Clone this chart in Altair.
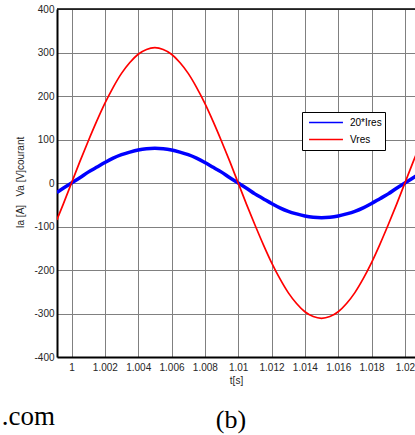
import altair as alt
import pandas as pd

# time samples [s]
t_vals = [0.99912, 0.9995, 1.0, 1.0005, 1.001, 1.0015, 1.002, 1.0025, 1.003, 1.0035,
          1.004, 1.0045, 1.005, 1.0055, 1.006, 1.0065, 1.007, 1.0075, 1.008, 1.0085,
          1.009, 1.0095, 1.01, 1.0105, 1.011, 1.0115, 1.012, 1.0125, 1.013, 1.0135,
          1.014, 1.0145, 1.015, 1.0155, 1.016, 1.0165, 1.017, 1.0175, 1.018, 1.0185,
          1.019, 1.0195, 1.02, 1.0205, 1.021]

# Vres [V]
vres = [-85, -49, 0, 49, 96, 141, 183, 220, 252, 277,
        296, 307, 311, 307, 296, 277, 252, 220, 183, 141,
        96, 49, 0, -49, -96, -141, -183, -220, -252, -277,
        -296, -307, -311, -307, -296, -277, -252, -220, -183, -141,
        -96, -49, 0, 49, 96]

# 20*Ires
ires20 = [-22, -12, 0, 12, 25, 36, 47, 57, 65, 71,
          76, 79, 80, 79, 76, 71, 65, 57, 47, 36,
          25, 12, 0, -12, -25, -36, -47, -57, -65, -71,
          -76, -79, -80, -79, -76, -71, -65, -57, -47, -36,
          -25, -12, 0, 12, 25]

series_names = ["20*Ires", "Vres"]
series_colors = ["#0000ff", "#ff0000"]
series_widths = [3.5, 1.7]

x_ticks = [1.0, 1.002, 1.004, 1.006, 1.008, 1.01, 1.012, 1.014, 1.016, 1.018, 1.02]
y_ticks = [-400, -300, -200, -100, 0, 100, 200, 300, 400]
x_domain = [0.99913, 1.020606]
y_domain = [-400, 400]

y_title = "Ia [A]\u00a0\u00a0\u00a0Va [V]courant"
caption_texts = [".com", "(b)"]

rows = []
for t, v in zip(t_vals, ires20):
    rows.append({"t": t, "val": v, "series": series_names[0]})
for t, v in zip(t_vals, vres):
    rows.append({"t": t, "val": v, "series": series_names[1]})
df = pd.DataFrame(rows)

W, H = 358, 348

x_scale = alt.Scale(domain=x_domain, nice=False, zero=False)
y_scale = alt.Scale(domain=y_domain, nice=False, zero=False)

x_enc = alt.X("t:Q", scale=x_scale,
              axis=alt.Axis(values=x_ticks, format=".3~f", title="t[s]", grid=True,
                            gridColor="#808080", gridWidth=1, gridOpacity=1,
                            ticks=False, labelPadding=5, labelFlush=False,
                            labelFont="Liberation Sans", labelFontSize=10, labelColor="#262626",
                            titleFont="Liberation Sans", titleFontSize=10, titleFontWeight="normal",
                            titleColor="#262626", titlePadding=3,
                            domainColor="#000000", domainWidth=2))
y_enc = alt.Y("val:Q", scale=y_scale,
              axis=alt.Axis(values=y_ticks, labelExpr="'' + datum.value", title=y_title,
                            grid=True, gridColor="#808080", gridWidth=1, gridOpacity=1,
                            ticks=False, labelPadding=3, labelFlush=False,
                            labelFont="Liberation Sans", labelFontSize=10, labelColor="#262626",
                            titleFont="Liberation Sans", titleFontSize=10, titleFontWeight="normal",
                            titleColor="#262626", titleX=-37, titleY=173, titleBaseline="middle",
                            titleAlign="center", titleAngle=270,
                            domainColor="#000000", domainWidth=2))
color_enc = alt.Color("series:N", scale=alt.Scale(domain=series_names, range=series_colors),
                      legend=alt.Legend(title=None, orient="none", legendX=245, legendY=103,
                                        symbolType="stroke", symbolSize=1150, symbolStrokeWidth=1.6,
                                        symbolOffset=3, clipHeight=15,
                                        labelFont="Liberation Sans", labelFontSize=10,
                                        labelColor="#000000", padding=3, rowPadding=2,
                                        labelOffset=6,
                                        strokeColor="#000000", fillColor="#ffffff"))

base = alt.Chart(df).encode(x=x_enc, y=y_enc, color=color_enc, order=alt.Order("t:Q"))

line_i = base.transform_filter(alt.datum.series == series_names[0]).mark_line(
    interpolate="monotone", clip=True, strokeWidth=series_widths[0])
line_v = base.transform_filter(alt.datum.series == series_names[1]).mark_line(
    interpolate="monotone", clip=True, strokeWidth=series_widths[1])

top_border = alt.Chart(pd.DataFrame({"y": [y_domain[1]]})).mark_rule(
    color="#000000", strokeWidth=1.5).encode(
    y=alt.Y("y:Q", scale=y_scale),
)

cap_df = pd.DataFrame({"txt": caption_texts})
cap_com = alt.Chart(cap_df).transform_filter(alt.datum.txt == ".com").mark_text(
    font="Liberation Serif", fontSize=27, align="right", baseline="alphabetic", color="#000000"
).encode(text="txt:N", x=alt.value(-2), y=alt.value(416))
cap_b = alt.Chart(cap_df).transform_filter(alt.datum.txt == "(b)").mark_text(
    font="Liberation Serif", fontSize=26, align="center", baseline="alphabetic", color="#000000"
).encode(text="txt:N", x=alt.value(174), y=alt.value(419))

chart = alt.layer(line_i, line_v, top_border, cap_com, cap_b).properties(
    width=W, height=H,
    autosize=alt.AutoSizeParams(type="none"),
    padding={"left": 57, "top": 9, "right": 0, "bottom": 78},
    background="#ffffff",
).configure_view(stroke=None)

chart.save("out.html", embed_options={"renderer": "svg", "actions": False})
